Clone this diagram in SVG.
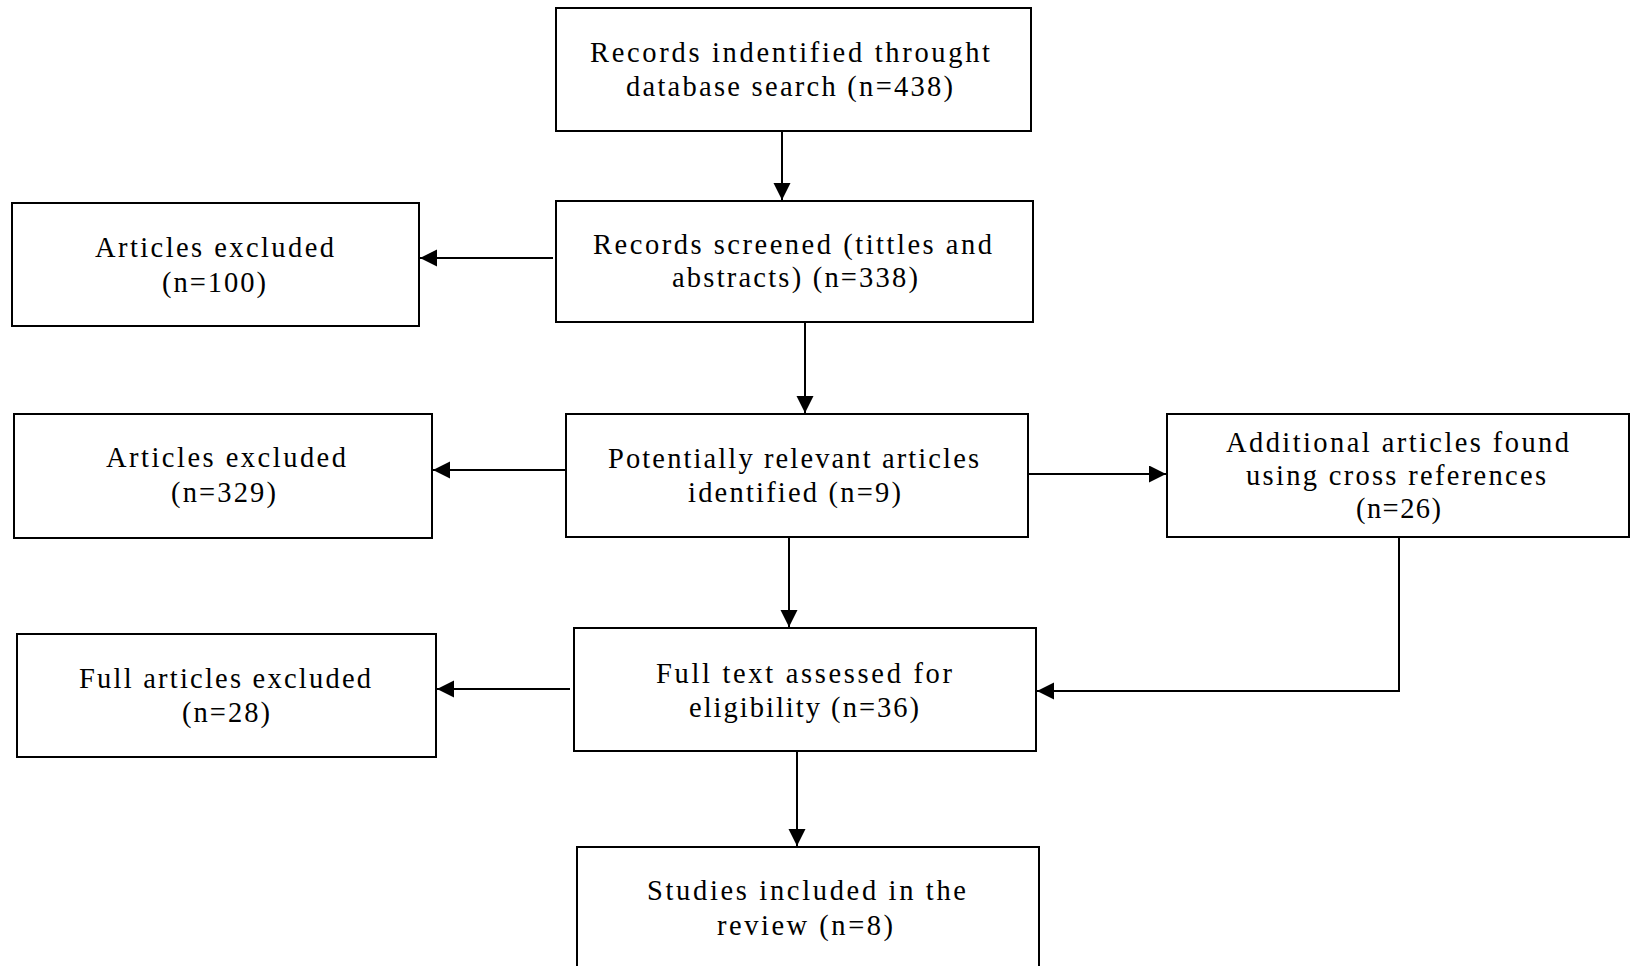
<svg xmlns="http://www.w3.org/2000/svg" width="1632" height="966" viewBox="0 0 1632 966">
<style>
.box{fill:#fff;stroke:#000;stroke-width:2}
.t{font-family:"Liberation Serif","Times New Roman",serif;font-size:28.5px;fill:#000}
.c{fill:none;stroke:#000;stroke-width:2}
</style>
<defs>
<marker id="ah" markerUnits="userSpaceOnUse" markerWidth="18" markerHeight="18" refX="17" refY="8.5" orient="auto">
<path d="M0,0 L17,8.5 L0,17 z" fill="#000"/>
</marker>
</defs>
<rect width="1632" height="966" fill="#fff"/>
<g id="connectors">
<path class="c" d="M782,131 V200" marker-end="url(#ah)"/>
<path class="c" d="M553,258 H420" marker-end="url(#ah)"/>
<path class="c" d="M805,322 V413" marker-end="url(#ah)"/>
<path class="c" d="M566,470 H433" marker-end="url(#ah)"/>
<path class="c" d="M1028,474 H1166" marker-end="url(#ah)"/>
<path class="c" d="M789,537 V627" marker-end="url(#ah)"/>
<path class="c" d="M1399,537 V691 H1037" marker-end="url(#ah)"/>
<path class="c" d="M570,689 H437" marker-end="url(#ah)"/>
<path class="c" d="M797,751 V846" marker-end="url(#ah)"/>
</g>
<g id="n1">
<rect class="box" x="556" y="8" width="475" height="123"/>
<text class="t" x="590" y="62" textLength="400" lengthAdjust="spacing">Records indentified throught</text>
<text class="t" x="626" y="96" textLength="327" lengthAdjust="spacing">database search (n=438)</text>
</g>
<g id="n2">
<rect class="box" x="556" y="201" width="477" height="121"/>
<text class="t" x="593" y="254" textLength="399" lengthAdjust="spacing">Records screened (tittles and</text>
<text class="t" x="672" y="287" textLength="246" lengthAdjust="spacing">abstracts) (n=338)</text>
</g>
<g id="n_ex1">
<rect class="box" x="12" y="203" width="407" height="123"/>
<text class="t" x="95" y="257" textLength="239" lengthAdjust="spacing">Articles excluded</text>
<text class="t" x="162" y="292" textLength="104" lengthAdjust="spacing">(n=100)</text>
</g>
<g id="n3">
<rect class="box" x="566" y="414" width="462" height="123"/>
<text class="t" x="608" y="468" textLength="371" lengthAdjust="spacing">Potentially relevant articles</text>
<text class="t" x="688" y="502" textLength="213" lengthAdjust="spacing">identified (n=9)</text>
</g>
<g id="n_ex2">
<rect class="box" x="14" y="414" width="418" height="124"/>
<text class="t" x="106" y="467" textLength="240" lengthAdjust="spacing">Articles excluded</text>
<text class="t" x="171" y="502" textLength="105" lengthAdjust="spacing">(n=329)</text>
</g>
<g id="n_add">
<rect class="box" x="1167" y="414" width="462" height="123"/>
<text class="t" x="1226" y="452" textLength="343" lengthAdjust="spacing">Additional articles found</text>
<text class="t" x="1246" y="485" textLength="300" lengthAdjust="spacing">using cross references</text>
<text class="t" x="1356" y="518" textLength="85" lengthAdjust="spacing">(n=26)</text>
</g>
<g id="n4">
<rect class="box" x="574" y="628" width="462" height="123"/>
<text class="t" x="656" y="683" textLength="296" lengthAdjust="spacing">Full text assessed for</text>
<text class="t" x="689" y="717" textLength="230" lengthAdjust="spacing">eligibility (n=36)</text>
</g>
<g id="n_ex3">
<rect class="box" x="17" y="634" width="419" height="123"/>
<text class="t" x="79" y="688" textLength="292" lengthAdjust="spacing">Full articles excluded</text>
<text class="t" x="182" y="722" textLength="88" lengthAdjust="spacing">(n=28)</text>
</g>
<g id="n5">
<rect class="box" x="577" y="847" width="462" height="130"/>
<text class="t" x="647" y="900" textLength="319" lengthAdjust="spacing">Studies included in the</text>
<text class="t" x="717" y="935" textLength="176" lengthAdjust="spacing">review (n=8)</text>
</g>
</svg>
